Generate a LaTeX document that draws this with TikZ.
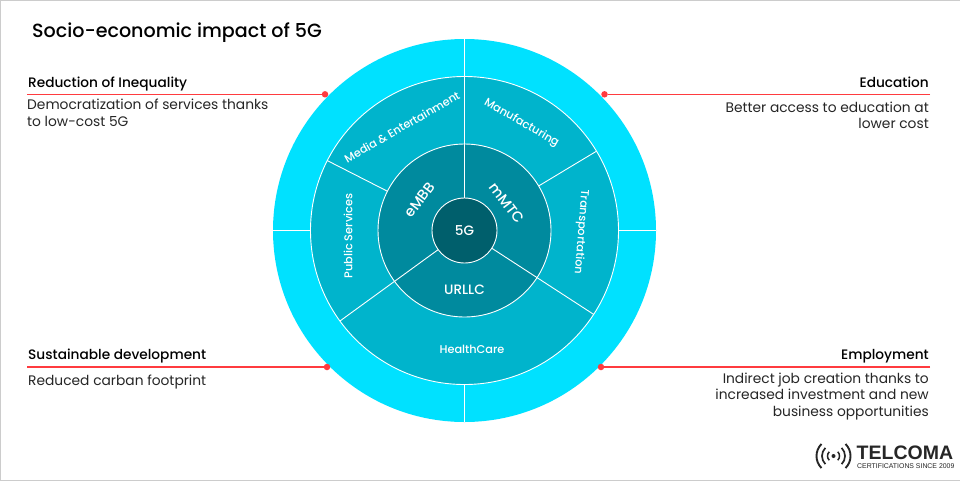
\documentclass[tikz,border=0pt]{standalone}
\usepackage{fontspec}
\setmainfont{Poppins}
\newfontfamily\medfont{Poppins Medium}
\newfontfamily\logofont{Liberation Sans}

\definecolor{ringouter}{HTML}{00E1FF}
\definecolor{ringmid}{HTML}{00B4CC}
\definecolor{ringinner}{HTML}{008A9E}
\definecolor{ringcore}{HTML}{005F6C}
\definecolor{reddot}{HTML}{FF3B3F}

\tikzset{
	divider/.style={white,line width=.9pt},
	ringedge/.style={draw=white,line width=.9pt},
	headleft/.style={anchor=base west,inner sep=0,font=\fontsize{13.7}{16}\medfont},
	headright/.style={anchor=base east,inner sep=0,font=\fontsize{13.7}{16}\medfont},
	bodyleft/.style={anchor=north west,align=left,inner sep=0,text=black!85,font=\fontsize{13.8}{16.5}\selectfont},
	bodyright/.style={anchor=north east,align=right,inner sep=0,text=black!85,font=\fontsize{13.8}{16.5}\selectfont},
	redline/.style={draw=reddot,line width=1.3pt},
	dotmark/.style={circle,fill=reddot,inner sep=0,minimum size=6.5pt},
	wheeltext/.style={white,inner sep=0,font=\fontsize{11.3}{12}\medfont},
	coretext/.style={white,inner sep=0,font=\fontsize{13.6}{14}\medfont},
	slicetext/.style={white,inner sep=0,font=\fontsize{14.4}{15}\medfont}
}

\begin{document}
\begin{tikzpicture}[x=1pt,y=1pt]
	\useasboundingbox (0,0) rectangle (960,-480);
	\draw[black!20,fill=white,line width=1pt] (0,0) rectangle (960,-480);

	\node[anchor=west,inner sep=0,font=\fontsize{19.1}{24}\medfont] (title) at (32,-33) {Socio-economic impact of 5G};

	% the wheel
	\begin{scope}[shift={(464.5,-230.5)}]
		\fill[ringouter] (0,0) circle [radius=191.5];
		\draw[divider] (90:154) -- (90:191.5);
		\draw[divider] (270:154) -- (270:191.5);
		\draw[divider] (0:154) -- (0:191.5);
		\draw[divider] (180:154) -- (180:191.5);

		\draw[ringedge,fill=ringmid] (0,0) circle [radius=154];
		\draw[divider] (31:86.5) -- (31:154);
		\draw[divider] (153:86.5) -- (153:154);
		\draw[divider] (216:86.5) -- (216:154);
		\draw[divider] (-33:86.5) -- (-33:154);
		\draw[divider] (90:86.5) -- (90:154);

		\draw[ringedge,fill=ringinner] (0,0) circle [radius=86.5];
		\draw[divider] (90:32.5) -- (90:86.5);
		\draw[divider] (216:32.5) -- (216:86.5);
		\draw[divider] (-33:32.5) -- (-33:86.5);

		\draw[ringedge,fill=ringcore] (0,0) circle [radius=32.5];
	\end{scope}

	\node[coretext] (core) at (464.5,-230.5) {5G};
	\node[coretext] (urllc) at (464.5,-289.5) {URLLC};
	\node[slicetext,rotate=53] (embb) at (420,-200) {eMBB};
	\node[slicetext,rotate=-53] (mmtc) at (507,-203) {mMTC};
	\node[wheeltext] (health) at (472,-349.5) {HealthCare};
	\node[wheeltext,rotate=90] (public) at (348,-236) {Public Services};
	\node[wheeltext,rotate=-94.5] (transport) at (581,-232) {Transportation};
	\node[wheeltext,rotate=30] (media) at (402,-127) {Media \& Entertainment};
	\node[wheeltext,rotate=-30] (manufacture) at (521.5,-123) {Manufacturing};

	% the four notes
	\node[headleft] (reductionhead) at (28,-87) {Reduction of Inequality};
	\node[bodyleft] (reductionbody) at (27,-99) {Democratization of services thanks\\to low-cost 5G};
	\node[dotmark] (reductiondot) at (325,-94.3) {};
	\coordinate (reductionend) at (27,-94.3);
	\draw[redline] (reductionend) -- (reductiondot);

	\node[headright] (educationhead) at (929,-87) {Education};
	\node[bodyright] (educationbody) at (929,-101.5) {Better access to education at\\lower cost};
	\node[dotmark] (educationdot) at (604.5,-94.3) {};
	\coordinate (educationend) at (930,-94.3);
	\draw[redline] (educationend) -- (educationdot);

	\node[headleft] (sustainhead) at (28,-359.5) {Sustainable development};
	\node[bodyleft] (sustainbody) at (28,-374.5) {Reduced carban footprint};
	\node[dotmark] (sustaindot) at (327,-367) {};
	\coordinate (sustainend) at (27,-367);
	\draw[redline] (sustainend) -- (sustaindot);

	\node[headright] (employhead) at (929,-359.5) {Employment};
	\node[bodyright] (employbody) at (929,-372.5) {Indirect job creation thanks to\\increased investment and new\\business opportunities};
	\node[dotmark] (employdot) at (601,-367) {};
	\coordinate (employend) at (930,-367);
	\draw[redline] (employend) -- (employdot);

	% logo
	\fill[black!85] (833.5,-456) circle [radius=2];
	\foreach \r/\w in {6/1.5,11.5/1.7,17/1.9}{
		\draw[black!85,line width=\w pt] ([shift={(45:\r)}]833.5,-456) arc [start angle=45,end angle=-45,radius=\r];
		\draw[black!85,line width=\w pt] ([shift={(135:\r)}]833.5,-456) arc [start angle=135,end angle=225,radius=\r];
	}
	\node[anchor=west,inner sep=0,text=black!85,font=\fontsize{19.5}{20}\logofont\bfseries] (logoname) at (856.5,-452.5) {TELCOMA};
	\node[anchor=west,inner sep=0,text=black!85,font=\fontsize{6.9}{8}\logofont] (logotag) at (857,-466) {CERTIFICATIONS SINCE 2009};
\end{tikzpicture}
\end{document}
